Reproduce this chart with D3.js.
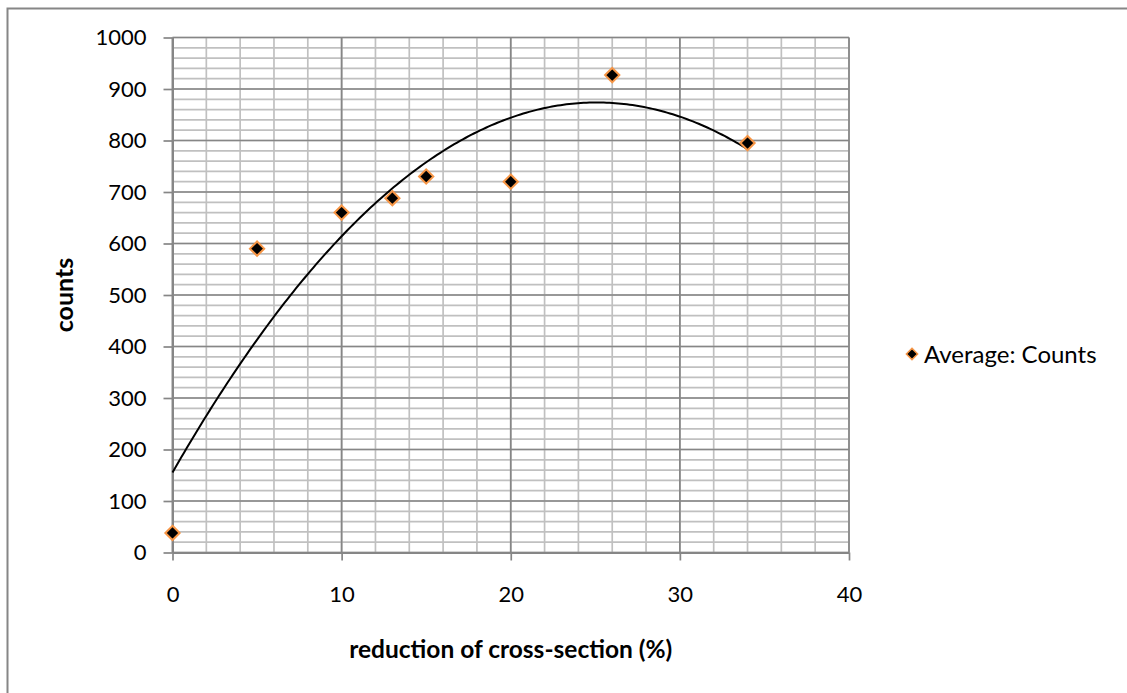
<!DOCTYPE html>
<html>
<head>
<meta charset="utf-8">
<script src="https://cdn.jsdelivr.net/npm/d3@7"></script>
<style>
  html, body { margin: 0; padding: 0; background: #fff; }
  svg { display: block; font-family: Lato, "Open Sans", sans-serif; }
</style>
</head>
<body>
<svg id="chart" width="1127" height="693"></svg>
<script>
// Measured counts against reduction of cross-section
const reduction = [0, 5, 10, 13, 15, 20, 26, 34];
const counts = [38, 590, 660, 688, 730, 720, 927, 795];
const xTicks = [0, 10, 20, 30, 40];
const yTicks = [0, 100, 200, 300, 400, 500, 600, 700, 800, 900, 1000];
const seriesName = "Average: Counts";
const xTitle = "reduction of cross-section (%)";
const yTitle = "counts";

const svg = d3.select("#chart");
const W = 1127, H = 693;

// Chart frame
svg.append("rect")
  .attr("x", 7.5).attr("y", 8.5)
  .attr("width", W + 10).attr("height", H + 10)
  .attr("fill", "#fff").attr("stroke", "#868686").attr("stroke-width", 2);

const plot = { left: 172.5, right: 849, top: 37.5, bottom: 552.5 };
const x = d3.scaleLinear().domain([0, 40]).range([plot.left, plot.right]);
const y = d3.scaleLinear().domain([0, 1000]).range([plot.bottom, plot.top]);

const g = svg.append("g");

// Minor gridlines
const xMinor = d3.range(0, 40.001, 2);
const yMinor = d3.range(0, 1000.001, 20);
g.append("g").selectAll("line").data(xMinor).join("line")
  .attr("x1", d => x(d)).attr("x2", d => x(d))
  .attr("y1", plot.top).attr("y2", plot.bottom)
  .attr("stroke", "#c0c0c0").attr("stroke-width", 1.7);
g.append("g").selectAll("line").data(yMinor).join("line")
  .attr("x1", plot.left).attr("x2", plot.right)
  .attr("y1", d => y(d)).attr("y2", d => y(d))
  .attr("stroke", "#c0c0c0").attr("stroke-width", 1.7);

// Major gridlines
g.append("g").selectAll("line").data(xTicks).join("line")
  .attr("x1", d => x(d)).attr("x2", d => x(d))
  .attr("y1", plot.top).attr("y2", plot.bottom)
  .attr("stroke", "#868686").attr("stroke-width", 1.7);
g.append("g").selectAll("line").data(yTicks).join("line")
  .attr("x1", plot.left).attr("x2", plot.right)
  .attr("y1", d => y(d)).attr("y2", d => y(d))
  .attr("stroke", "#868686").attr("stroke-width", 1.7);

// Axes
const fmt = d3.format("d");
const xAxis = d3.axisBottom(x).tickValues(xTicks).tickFormat(fmt).tickSize(8).tickPadding(26).tickSizeOuter(0);
const yAxis = d3.axisLeft(y).tickValues(yTicks).tickFormat(fmt).tickSize(9).tickPadding(17).tickSizeOuter(0);

const gx = svg.append("g").attr("transform", `translate(0,${plot.bottom})`).call(xAxis);
const gy = svg.append("g").attr("transform", `translate(${plot.left},0)`).call(yAxis);
[gx, gy].forEach(a => {
  a.select(".domain").attr("stroke", "#868686").attr("stroke-width", 2);
  a.selectAll(".tick line").attr("stroke", "#868686").attr("stroke-width", 1.7);
  a.selectAll(".tick text").attr("fill", "#000")
    .style("font-family", "Lato, 'Open Sans', sans-serif").style("font-size", "22px");
});

// Second-order polynomial least-squares trendline
function polyFit2(xs, ys) {
  const s = [0, 0, 0, 0, 0], t = [0, 0, 0];
  xs.forEach((xi, i) => {
    for (let k = 0; k <= 4; k++) s[k] += Math.pow(xi, k);
    for (let k = 0; k <= 2; k++) t[k] += Math.pow(xi, k) * ys[i];
  });
  const A = [[s[0], s[1], s[2], t[0]], [s[1], s[2], s[3], t[1]], [s[2], s[3], s[4], t[2]]];
  for (let c = 0; c < 3; c++) {
    for (let r = c + 1; r < 3; r++) {
      const f = A[r][c] / A[c][c];
      for (let k = c; k < 4; k++) A[r][k] -= f * A[c][k];
    }
  }
  const coef = [0, 0, 0];
  for (let r = 2; r >= 0; r--) {
    let v = A[r][3];
    for (let k = r + 1; k < 3; k++) v -= A[r][k] * coef[k];
    coef[r] = v / A[r][r];
  }
  return coef;
}
const [a0, a1, a2] = polyFit2(reduction, counts);
const xMin = d3.min(reduction), xMax = d3.max(reduction);
const curve = d3.range(0, 201).map(i => {
  const xv = xMin + (xMax - xMin) * i / 200;
  return [xv, a0 + a1 * xv + a2 * xv * xv];
});
svg.append("path")
  .datum(curve)
  .attr("d", d3.line().x(d => x(d[0])).y(d => y(d[1])))
  .attr("fill", "none").attr("stroke", "#000").attr("stroke-width", 2);

// Markers
const diamond = d3.symbol().type(d3.symbolDiamond2).size(130);
svg.append("g").selectAll("path").data(reduction.map((r, i) => [r, counts[i]])).join("path")
  .attr("d", diamond)
  .attr("transform", d => `translate(${x(d[0])},${y(d[1])})`)
  .attr("fill", "#000").attr("stroke", "#f79646").attr("stroke-width", 2);

// Axis titles
svg.append("text")
  .attr("x", (plot.left + plot.right) / 2).attr("y", 648)
  .attr("text-anchor", "middle").attr("dominant-baseline", "central")
  .style("font-weight", "bold").style("font-size", "24.5px")
  .text(xTitle);
svg.append("text")
  .attr("transform", `translate(63,${(plot.top + plot.bottom) / 2}) rotate(-90)`)
  .attr("text-anchor", "middle").attr("dominant-baseline", "central")
  .style("font-weight", "bold").style("font-size", "25px")
  .text(yTitle);

// Legend
const lg = svg.append("g").attr("transform", "translate(912,354)");
lg.append("path").attr("d", d3.symbol().type(d3.symbolDiamond2).size(80))
  .attr("fill", "#000").attr("stroke", "#f79646").attr("stroke-width", 1.5);
lg.append("text").attr("x", 12).attr("y", -1)
  .attr("dominant-baseline", "central")
  .style("font-size", "24px")
  .text(seriesName);
</script>
</body>
</html>
